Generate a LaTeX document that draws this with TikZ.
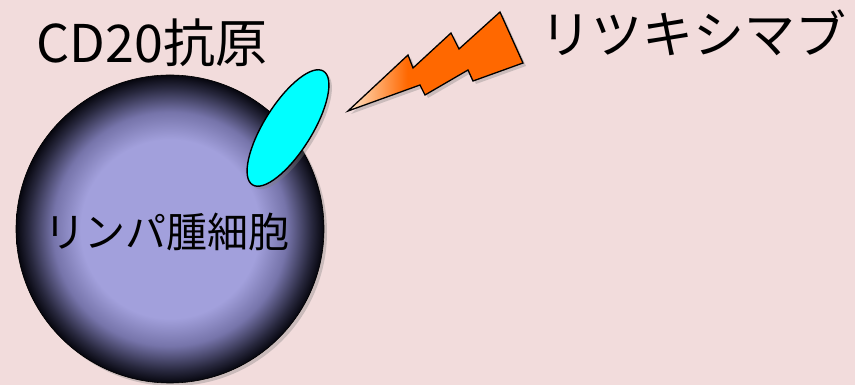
\documentclass[tikz,border=0pt]{standalone}
\usepackage{fontspec}
\newfontfamily\jp{Noto Sans CJK JP}
\usetikzlibrary{shadows}
\definecolor{bgpink}{RGB}{242,220,220}
\definecolor{lav}{RGB}{162,160,220}
\definecolor{lavmid}{RGB}{118,116,170}
\definecolor{lavdark}{RGB}{40,40,62}
\definecolor{celledge}{RGB}{6,6,14}
\definecolor{boltorange}{RGB}{255,104,0}
\definecolor{boltlight}{RGB}{255,222,190}
\definecolor{antigen}{RGB}{0,255,255}
% cell body: flat lavender core darkening towards the rim
\pgfdeclareradialshading{cellshade}{\pgfpoint{0bp}{0bp}}{%
  color(0bp)=(lav); color(14.5bp)=(lav); color(19bp)=(lavmid);
  color(23bp)=(lavdark); color(25bp)=(celledge); color(50bp)=(celledge)}
% bolt: pale near the tip, orange towards the back
\pgfdeclarehorizontalshading{boltshade}{100bp}{%
  color(0bp)=(boltlight); color(26bp)=(boltlight);
  color(42bp)=(boltorange); color(100bp)=(boltorange)}
\tikzset{
  softshadow/.style={drop shadow={opacity=0.35,shadow xshift=3pt,shadow yshift=-3pt}},
  label/.style={inner sep=0pt,text=black,font=\jp},
}
\begin{document}
\begin{tikzpicture}[x=1pt,y=1pt]
  \fill[bgpink] (0,0) rectangle (855,385);
  \useasboundingbox (0,0) rectangle (855,385);

  % lymphoma cell
  \path[softshadow,shading=cellshade,draw=black,line width=0.6pt]
    (170,156) circle [radius=154];
  \coordinate (cell) at (170,156);

  % CD20 antigen on the membrane
  \draw[softshadow,fill=antigen,draw=black,line width=1.4pt,rotate around={58:(288,257)}]
    (288,257) ellipse [x radius=67, y radius=24];
  \coordinate (antigen) at (288,257);

  % rituximab bolt
  \draw[softshadow,shading=boltshade,draw=black,line width=1.3pt,line join=miter]
    (348,274) -- (408,330) -- (413,317) -- (451,352) -- (459,336) -- (500,373)
    -- (523,322) -- (473,304) -- (468,315) -- (425,290) -- (420,300) -- cycle;

  % labels
  \node[label,font=\jp\fontsize{52}{52}\selectfont] (cd20) at (152,342) {CD20抗原};
  \node[label,font=\jp\fontsize{51}{51}\selectfont] (ritux) at (693,352) {リツキシマブ};
  \node[label,font=\jp\fontsize{41}{41}\selectfont] (celltext) at (167,153) {リンパ腫細胞};
\end{tikzpicture}
\end{document}
